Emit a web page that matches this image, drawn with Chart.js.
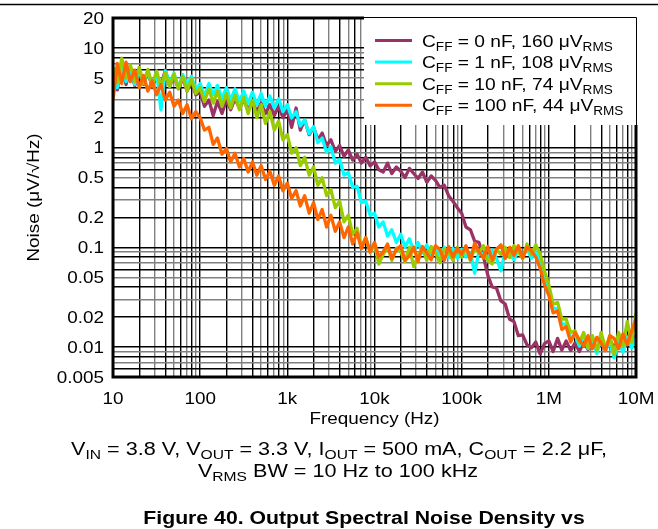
<!DOCTYPE html>
<html>
<head>
<meta charset="utf-8">
<script src="https://cdn.jsdelivr.net/npm/chart.js@4.4.1/dist/chart.umd.min.js"></script>
<style>
  html, body { margin: 0; padding: 0; background: #fff; }
  canvas { display: block; }
</style>
</head>
<body>
<canvas id="noise" width="658" height="529"></canvas>
<script>
// Frequency points (Hz), 20 per decade
const freqHz = [
  10, 11.2, 12.6, 14.1, 15.8, 17.8, 20, 22.4, 25.1, 28.2, 31.6, 35.5, 39.8, 44.7, 50.1, 56.2, 63.1, 70.8, 79.4, 89.1,
  100, 112, 126, 141, 158, 178, 200, 224, 251, 282, 316, 355, 398, 447, 501, 562, 631, 708, 794, 891,
  1000, 1120, 1260, 1410, 1580, 1780, 2000, 2240, 2510, 2820, 3160, 3550, 3980, 4470, 5010, 5620, 6310, 7080, 7940, 8910,
  10000, 11200, 12600, 14100, 15800, 17800, 20000, 22400, 25100, 28200, 31600, 35500, 39800, 44700, 50100, 56200, 63100, 70800, 79400, 89100,
  100000, 112000, 126000, 141000, 158000, 178000, 200000, 224000, 251000, 282000, 316000, 355000, 398000, 447000, 501000, 562000, 631000, 708000, 794000, 891000,
  1000000, 1120000, 1260000, 1410000, 1580000, 1780000, 2000000, 2240000, 2510000, 2820000, 3160000, 3550000, 3980000, 4470000, 5010000, 5620000, 6310000, 7080000, 7940000, 8910000,
  10000000
];

// Noise density (uV/rtHz) for each feed-forward capacitor value
const noiseCff0 = [
  6.4, 3.8, 7.0, 4.3, 6.1, 4.2, 5.6, 4.3, 5.8, 4.0, 5.4, 4.2, 6.0, 4.1, 5.3, 3.9, 5.0, 3.7, 4.6, 3.4,
  3.6, 2.6, 3.0, 2.1, 2.9, 2.2, 3.0, 2.4, 3.1, 2.5, 3.0, 2.4, 2.9, 2.3, 2.8, 2.2, 2.7, 2.1, 2.6, 2.0,
  2.4, 1.6, 2.5, 1.5, 1.9, 1.35, 1.6, 1.2, 1.4, 1.05, 1.2, 0.92, 1.05, 0.82, 0.95, 0.75, 0.86, 0.7, 0.8, 0.66,
  0.72, 0.6, 0.57, 0.7, 0.55, 0.64, 0.58, 0.5, 0.62, 0.55, 0.49, 0.57, 0.45, 0.52, 0.47, 0.4, 0.42, 0.33, 0.29, 0.25,
  0.22, 0.16, 0.15, 0.115, 0.112, 0.08, 0.052, 0.04, 0.039, 0.029, 0.027, 0.019, 0.018, 0.013, 0.0132, 0.0105, 0.0098, 0.0112, 0.0085, 0.0108,
  0.0115, 0.009, 0.0122, 0.0093, 0.0115, 0.0092, 0.011, 0.009, 0.0112, 0.0094, 0.011, 0.0093, 0.0115, 0.0097, 0.0118, 0.0098, 0.0122, 0.01, 0.0128, 0.0105,
  0.013
];
const noiseCff1 = [
  5.6, 4.0, 6.8, 4.6, 6.2, 4.3, 5.9, 4.5, 5.8, 4.2, 5.7, 2.4, 5.9, 4.5, 5.6, 4.0, 5.4, 4.2, 5.2, 3.8,
  4.4, 3.3, 4.4, 3.4, 4.2, 3.1, 4.0, 3.0, 3.9, 2.9, 3.7, 2.8, 3.6, 2.7, 3.5, 2.6, 3.3, 2.5, 3.1, 2.3,
  2.7, 2.0, 2.3, 1.65, 1.9, 1.38, 1.62, 1.12, 1.25, 0.9, 1.02, 0.7, 0.76, 0.53, 0.56, 0.4, 0.41, 0.28, 0.29, 0.21,
  0.22, 0.16, 0.18, 0.13, 0.15, 0.112, 0.135, 0.1, 0.122, 0.092, 0.112, 0.088, 0.106, 0.084, 0.102, 0.08, 0.1, 0.079, 0.098, 0.078,
  0.096, 0.08, 0.088, 0.055, 0.092, 0.084, 0.075, 0.094, 0.077, 0.058, 0.092, 0.086, 0.075, 0.094, 0.082, 0.096, 0.078, 0.09, 0.075, 0.05,
  0.036, 0.025, 0.024, 0.017, 0.017, 0.0122, 0.0132, 0.0102, 0.0128, 0.0096, 0.0118, 0.0086, 0.0122, 0.0092, 0.0112, 0.0078, 0.0116, 0.0088, 0.0126, 0.0098,
  0.0125
];
const noiseCff10 = [
  6.3, 4.5, 7.9, 5.0, 6.8, 4.6, 6.4, 4.4, 6.1, 4.2, 5.9, 4.1, 5.7, 4.1, 5.5, 3.9, 5.2, 3.7, 4.9, 3.5,
  4.0, 2.9, 3.9, 2.8, 3.7, 2.6, 3.5, 2.5, 3.4, 2.4, 3.2, 2.2, 3.0, 2.0, 2.7, 1.75, 2.3, 1.5, 1.85, 1.2,
  1.35, 0.88, 1.0, 0.66, 0.8, 0.53, 0.64, 0.42, 0.5, 0.33, 0.38, 0.25, 0.29, 0.18, 0.21, 0.135, 0.155, 0.1, 0.125, 0.088,
  0.108, 0.068, 0.085, 0.102, 0.074, 0.098, 0.09, 0.072, 0.1, 0.064, 0.082, 0.098, 0.074, 0.102, 0.088, 0.07, 0.096, 0.09, 0.074, 0.1,
  0.08, 0.1, 0.074, 0.098, 0.088, 0.104, 0.074, 0.068, 0.096, 0.085, 0.1, 0.079, 0.104, 0.09, 0.077, 0.108, 0.084, 0.106, 0.086, 0.058,
  0.042, 0.027, 0.028, 0.019, 0.019, 0.014, 0.0145, 0.011, 0.014, 0.0098, 0.013, 0.0092, 0.014, 0.0096, 0.013, 0.0084, 0.014, 0.0102, 0.018, 0.0112,
  0.022
];
const noiseCff100 = [
  3.0, 7.0, 4.4, 7.2, 4.6, 6.0, 4.0, 5.3, 3.7, 4.7, 3.4, 4.3, 3.0, 3.6, 2.6, 3.0, 2.2, 2.7, 1.95, 2.3,
  2.0, 1.5, 1.6, 1.08, 1.25, 0.86, 0.98, 0.72, 0.88, 0.64, 0.78, 0.57, 0.72, 0.53, 0.66, 0.48, 0.58, 0.42, 0.52, 0.37,
  0.44, 0.31, 0.37, 0.26, 0.33, 0.22, 0.28, 0.19, 0.24, 0.16, 0.21, 0.145, 0.18, 0.125, 0.16, 0.108, 0.14, 0.097, 0.125, 0.09,
  0.112, 0.08, 0.09, 0.108, 0.077, 0.095, 0.104, 0.074, 0.082, 0.1, 0.072, 0.102, 0.088, 0.075, 0.104, 0.095, 0.074, 0.102, 0.08, 0.098,
  0.085, 0.104, 0.075, 0.11, 0.09, 0.078, 0.102, 0.074, 0.096, 0.106, 0.077, 0.1, 0.083, 0.104, 0.078, 0.1, 0.092, 0.08, 0.062, 0.042,
  0.033, 0.022, 0.023, 0.015, 0.016, 0.0112, 0.014, 0.0118, 0.0102, 0.013, 0.0096, 0.0125, 0.011, 0.0092, 0.013, 0.0122, 0.0096, 0.0135, 0.0105, 0.0145,
  0.019
];

// Series labels (text in _{...} is set as subscript)
const seriesLabels = [
  'C_{FF} = 0 nF, 160 \u03BCV_{RMS}',
  'C_{FF} = 1 nF, 108 \u03BCV_{RMS}',
  'C_{FF} = 10 nF, 74 \u03BCV_{RMS}',
  'C_{FF} = 100 nF, 44 \u03BCV_{RMS}'
];
const seriesColors = ['#993366', '#00FFFF', '#99CC00', '#FF6600'];

// Axis tick labels
const xTickValues = [10, 100, 1000, 10000, 100000, 1000000, 10000000];
const xTickLabels = ['10', '100', '1k', '10k', '100k', '1M', '10M'];
const yTickValues = [20, 10, 5, 2, 1, 0.5, 0.2, 0.1, 0.05, 0.02, 0.01, 0.005];
const yTickLabels = ['20', '10', '5', '2', '1', '0.5', '0.2', '0.1', '0.05', '0.02', '0.01', '0.005'];

const xTitle = 'Frequency (Hz)';
const yTitle = 'Noise (\u03BCV/\u221AHz)';
const captionLines = [
  'V_{IN} = 3.8 V, V_{OUT} = 3.3 V, I_{OUT} = 500 mA, C_{OUT} = 2.2 \u03BCF,',
  'V_{RMS} BW = 10 Hz to 100 kHz'
];
const figureTitle = 'Figure 40. Output Spectral Noise Density vs';

const FONT = '"Liberation Sans", Arial, Helvetica, sans-serif';

// Grid positions: every 1..9 multiple of each decade inside the range
function logGrid(min, max) {
  const out = [];
  for (let k = Math.floor(Math.log10(min)); k <= Math.ceil(Math.log10(max)); k++) {
    for (let m = 1; m <= 9; m++) {
      const v = Number((m * Math.pow(10, k)).toPrecision(6));
      if (v >= min * 0.999 && v <= max * 1.001) out.push(v);
    }
  }
  return out;
}
function mantissa(v) {
  const e = Math.floor(Math.log10(v) + 1e-9);
  return Math.round(v / Math.pow(10, e));
}
function gridColor(ctx) {
  const m = ctx.tick ? mantissa(ctx.tick.value) : 1;
  return (m === 1 || m % 2 === 0) ? '#000000' : '#808080';
}

// Rich text: segments inside _{...} are drawn as subscripts
function parseRich(s) {
  const parts = [];
  const re = /_\{([^}]*)\}/g;
  let last = 0, m;
  while ((m = re.exec(s))) {
    if (m.index > last) parts.push({ t: s.slice(last, m.index), sub: false });
    parts.push({ t: m[1], sub: true });
    last = re.lastIndex;
  }
  if (last < s.length) parts.push({ t: s.slice(last), sub: false });
  return parts;
}
function drawRich(ctx, s, x, y, o) {
  const parts = parseRich(s);
  const font = sub => (o.bold ? 'bold ' : '') + (sub ? o.subSize : o.size) + 'px ' + FONT;
  let w = 0;
  parts.forEach(p => { ctx.font = font(p.sub); p.w = ctx.measureText(p.t).width; w += p.w; });
  ctx.save();
  ctx.translate(x, y);
  if (o.rot) ctx.rotate(o.rot);
  ctx.scale(o.sx || 1, 1);
  let cx = o.align === 'center' ? -w / 2 : (o.align === 'right' ? -w : 0);
  ctx.textAlign = 'left';
  ctx.textBaseline = 'alphabetic';
  ctx.fillStyle = '#000';
  parts.forEach(p => {
    ctx.font = font(p.sub);
    ctx.fillText(p.t, cx, p.sub ? (o.subDy || 0) : 0);
    cx += p.w;
  });
  ctx.restore();
}

const decorations = {
  id: 'decorations',
  afterDraw(chart) {
    const ctx = chart.ctx;
    const a = chart.chartArea;
    const xs = chart.scales.x, ys = chart.scales.y;
    ctx.save();

    // rule across the top of the page
    ctx.strokeStyle = '#000';
    ctx.lineWidth = 1.5;
    ctx.beginPath(); ctx.moveTo(0, 4.5); ctx.lineTo(658, 4.5); ctx.stroke();

    // heavy plot frame
    ctx.lineWidth = 3;
    ctx.strokeRect(a.left, a.top, a.right - a.left, a.bottom - a.top);

    // legend panel
    const lx = 364, ly = 15, lb = 125;
    ctx.fillStyle = '#fff';
    ctx.fillRect(lx, ly, a.right + 2 - lx, lb - ly);
    ctx.lineWidth = 1;
    ctx.strokeStyle = '#000';
    ctx.beginPath();
    ctx.moveTo(lx, a.top - 0.5);
    ctx.lineTo(a.right + 0.5, a.top - 0.5);
    ctx.lineTo(a.right + 0.5, lb);
    ctx.stroke();
    seriesLabels.forEach((lab, i) => {
      const cy = 40.5 + i * 21.6;
      ctx.strokeStyle = seriesColors[i];
      ctx.lineWidth = 3;
      ctx.beginPath(); ctx.moveTo(375, cy); ctx.lineTo(412, cy); ctx.stroke();
      drawRich(ctx, lab, 422, cy + 6, { size: 17, subSize: 12, subDy: 4, sx: 1.13 });
    });

    // tick labels
    yTickValues.forEach((v, i) => {
      drawRich(ctx, yTickLabels[i], 104, ys.getPixelForValue(v) + 5.8, { size: 16, sx: 1.18, align: 'right' });
    });
    xTickValues.forEach((v, i) => {
      drawRich(ctx, xTickLabels[i], xs.getPixelForValue(v), 403.5, { size: 16, sx: 1.18, align: 'center' });
    });

    // axis titles
    drawRich(ctx, xTitle, (a.left + a.right) / 2, 424, { size: 16, sx: 1.18, align: 'center' });
    drawRich(ctx, yTitle, 39, (a.top + a.bottom) / 2, { size: 16, sx: 1.18, align: 'center', rot: -Math.PI / 2 });

    // conditions and figure caption
    drawRich(ctx, captionLines[0], 339, 455, { size: 18, subSize: 13, subDy: 4, sx: 1.2, align: 'center' });
    drawRich(ctx, captionLines[1], 338, 477, { size: 18, subSize: 13, subDy: 4, sx: 1.2, align: 'center' });
    drawRich(ctx, figureTitle, 364, 524, { size: 18, sx: 1.18, align: 'center', bold: true });

    ctx.restore();
  }
};

const series = [noiseCff0, noiseCff1, noiseCff10, noiseCff100];
const datasets = series.map((vals, i) => ({
  label: seriesLabels[i],
  data: freqHz.map((f, j) => ({ x: f, y: vals[j] })),
  borderColor: seriesColors[i],
  backgroundColor: seriesColors[i],
  borderWidth: 3.3,
  borderJoinStyle: 'round',
  pointRadius: 0,
  tension: 0,
  fill: false,
  order: 3 - i
}));

new Chart(document.getElementById('noise'), {
  type: 'line',
  data: { datasets },
  options: {
    responsive: false,
    animation: false,
    devicePixelRatio: 1,
    events: [],
    layout: { padding: { top: 18, right: 22, left: 0, bottom: 0 } },
    plugins: { legend: { display: false }, tooltip: { enabled: false } },
    scales: {
      x: {
        type: 'logarithmic',
        min: 10,
        max: 10000000,
        ticks: { display: false },
        grid: { color: gridColor, lineWidth: 1.4, drawTicks: false },
        border: { display: false },
        afterBuildTicks: s => { s.ticks = logGrid(10, 10000000).map(v => ({ value: v })); },
        afterFit: s => { s.height = 152; }
      },
      y: {
        type: 'logarithmic',
        min: 0.005,
        max: 20,
        ticks: { display: false },
        grid: { color: gridColor, lineWidth: 1.4, drawTicks: false },
        border: { display: false },
        afterBuildTicks: s => { s.ticks = logGrid(0.005, 20).map(v => ({ value: v })); },
        afterFit: s => { s.width = 113; }
      }
    }
  },
  plugins: [decorations]
});
</script>
</body>
</html>
